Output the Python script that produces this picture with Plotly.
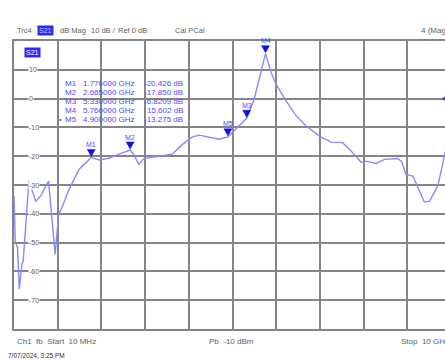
import plotly.graph_objects as go

# ---------------- data ----------------
freq_ghz = [0.01, 0.02, 0.04, 0.09, 0.13, 0.19, 0.22, 0.35, 0.51, 0.63, 0.80, 0.95,
            1.03, 1.12, 1.27, 1.50, 1.776, 1.96, 2.18, 2.41, 2.665, 2.76, 2.86, 2.96,
            3.10, 3.33, 3.63, 3.86, 4.08, 4.24, 4.47, 4.70, 4.90, 5.08, 5.33, 5.50,
            5.62, 5.76, 5.89, 6.00, 6.23, 6.46, 6.69, 7.00, 7.26, 7.52, 7.68, 7.81,
            7.95, 8.06, 8.29, 8.48, 8.78, 8.87, 8.97, 9.13, 9.26, 9.39, 9.51, 9.70,
            9.85, 10.0]
s21_db = [-33.8, -45.4, -49.9, -51.6, -66.2, -57.5, -56.4, -28.6, -35.6, -33.6, -28.6, -54.1,
          -40.2, -37.3, -31.5, -24.5, -20.426, -21.3, -20.7, -19.3, -17.85, -19.7, -22.8, -21.1,
          -20.5, -20.0, -19.3, -15.9, -13.4, -12.7, -13.4, -14.1, -13.275, -10.7, -6.8209, -0.2,
          6.7, 15.602, 9.0, 5.0, -0.8, -6.0, -9.5, -13.1, -15.1, -15.3, -17.6, -20.0,
          -22.2, -21.7, -22.5, -21.1, -20.8, -21.8, -26.3, -26.9, -31.5, -35.9, -35.6, -30.3,
          -19.9, -10.7]

marker_names = ["M1", "M2", "M3", "M4", "M5"]
marker_freq = [1.776, 2.665, 5.330, 5.760, 4.900]
marker_db = [-20.426, -17.850, -6.8209, 15.602, -13.275]
marker_freq_text = ["1.776000 GHz", "2.665000 GHz", "5.330000 GHz", "5.760000 GHz", "4.900000 GHz"]
marker_val_text = ["-20.426 dB", "-17.850 dB", "-6.8209 dB", "15.602 dB", "-13.275 dB"]

y_tick_vals = [10, 0, -10, -20, -30, -40, -50, -60, -70]
y_tick_text = ["10", "0", "-10", "-20", "-30", "-40", "-50", "-60", "-70"]

start_ghz = 0.01
stop_ghz = 10.0
ref_db = 0
top_db = 20
bottom_db = -80

# ---------------- layout helpers ----------------
W, H = 445, 360
ML, MR, MT, MB = 14, 0, 41, 31
PW, PH = W - ML - MR, H - MT - MB
div = (stop_ghz - start_ghz) / 10
full_px = 437.0
x_end = start_ghz + (stop_ghz - start_ghz) * PW / full_px


def ax(px):
    return (px - ML) / PW


def ay(py):
    return (H - MB - py) / PH


GRID = "#858585"
TRACE = "#8888ff"
MKR = "#1010e8"
TXT_BLUE = "#4a4aff"
GRAY = "#606060"
FONT = "Liberation Sans"

fig = go.Figure()
fig.add_trace(go.Scatter(x=freq_ghz, y=s21_db, mode="lines",
                         line=dict(color=TRACE, width=1.4), hoverinfo="skip"))

shapes = []
annotations = []


def txt(px, py, t, size=7.5, color=GRAY, xanchor="left", **kw):
    annotations.append(dict(x=ax(px), y=ay(py), xref="paper", yref="paper", text=t,
                            showarrow=False, xanchor=xanchor, yanchor="middle",
                            font=dict(size=size, color=color, family=FONT), **kw))


# marker triangles + labels
for name, f, d in zip(marker_names, marker_freq, marker_db):
    shapes.append(dict(type="path", xref="x", yref="y", xsizemode="pixel", ysizemode="pixel",
                       xanchor=f, yanchor=d, path="M -4,8 L 4,8 L 0,1 Z",
                       fillcolor=MKR, line=dict(color=MKR, width=0.5)))
    annotations.append(dict(x=f, y=d, xref="x", yref="y", text=name, showarrow=False,
                            yanchor="middle", yshift=13,
                            font=dict(size=7, color=TXT_BLUE, family=FONT)))

# reference level arrow at right edge
shapes.append(dict(type="path", xref="paper", yref="y", xsizemode="pixel", ysizemode="pixel",
                   xanchor=1, yanchor=ref_db, path="M -3,0 L 4,4 L 4,-4 Z",
                   fillcolor="#3030ff", line=dict(color="#3030ff", width=0.5)))

# y scale labels inside the grid
for v, t in zip(y_tick_vals, y_tick_text):
    annotations.append(dict(x=ax(28), y=v, xref="paper", yref="y", text=t, showarrow=False,
                            yanchor="middle", bgcolor="white", borderpad=0,
                            font=dict(size=7, color=GRAY, family=FONT)))

# marker table
row_y = [83, 92, 101, 110, 119]
for i in range(5):
    txt(63, row_y[i], marker_names[i], size=8, color=TXT_BLUE)
    txt(137, row_y[i], marker_freq_text[i], size=8, color=TXT_BLUE, xanchor="right")
    txt(185, row_y[i], marker_val_text[i], size=8, color=TXT_BLUE, xanchor="right")
txt(60, 119, "•", size=7, color=TXT_BLUE, xanchor="center")

# S21 badge inside grid
txt(24, 53, "S21", size=7, color="white", bgcolor="#2a2aff", borderpad=1)

# header line
for px, t in [(15, "Trc4"), (58, "dB Mag"), (89, "10 dB /"), (116, "Ref 0 dB"),
              (173, "Cal PCal"), (419, "4 (Mag)")]:
    txt(px, 31, t, size=8 if px > 400 else 7.5)
txt(37, 31, "S21", size=7, color="#c8c8ff", bgcolor="#2a2aff", borderpad=1)

# footer
for px, t in [(15, "Ch1  fb  Start  10 MHz"), (207, "Pb  -10 dBm"), (399, "Stop  10 GHz")]:
    txt(px, 341, t, size=8)
txt(6, 355, "7/07/2024, 3:25 PM", size=6.5, color="#303030")

x_ticks = [start_ghz + k * div for k in range(11)]

fig.update_layout(
    width=W, height=H,
    margin=dict(l=ML, r=MR, t=MT, b=MB, pad=0),
    paper_bgcolor="white", plot_bgcolor="white",
    showlegend=False,
    shapes=shapes, annotations=annotations,
    xaxis=dict(range=[start_ghz, x_end], tickvals=x_ticks, showticklabels=False,
               ticks="", showgrid=True, gridcolor=GRID, gridwidth=1.5,
               showline=True, linecolor=GRID, linewidth=1.5, mirror=True, zeroline=False),
    yaxis=dict(range=[bottom_db, top_db], dtick=10, tick0=0, showticklabels=False,
               ticks="", showgrid=True, gridcolor=GRID, gridwidth=1.5,
               showline=True, linecolor=GRID, linewidth=1.5, mirror=False, zeroline=False),
)

fig.write_html("out.html", config={"displayModeBar": False},
               post_script="document.body.style.margin='0';document.body.style.overflow='hidden';")
